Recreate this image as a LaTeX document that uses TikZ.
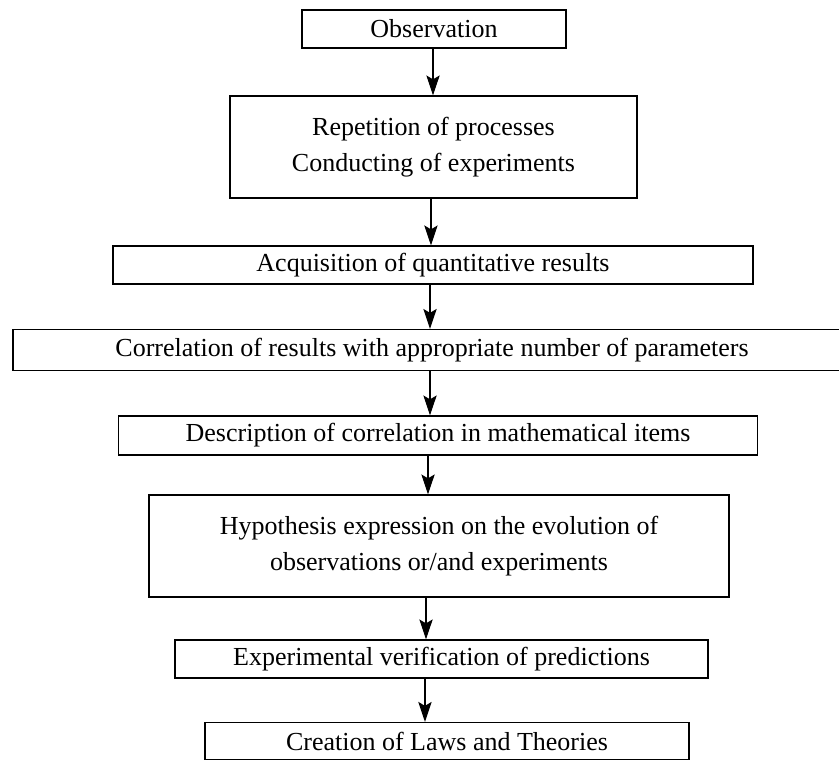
\documentclass[tikz,border=0pt]{standalone}
\usepackage{fontspec}
\setmainfont{Liberation Serif}
\usetikzlibrary{arrows.meta}
\begin{document}
\begin{tikzpicture}[x=0.75pt,y=-0.75pt,
  box/.style={draw, line width=0.9pt, inner sep=0pt, align=center,
    font=\fontsize{19.5}{27}\selectfont},
  arr/.style={line width=0.8pt, -{Stealth[length=15pt,width=10pt,inset=3pt]}}]
\useasboundingbox (0,0) rectangle (839,760);
\node[box, minimum width=198pt, minimum height=28.5pt] (b1) at (434,29) {Observation};
\node[box, minimum width=305.25pt, minimum height=76.5pt] (b2) at (433.5,147)
  {Repetition of processes\\Conducting of experiments};
\node[box, minimum width=480pt, minimum height=28.5pt] (b3) at (433,265)
  {Acquisition of quantitative results};
\node[box, minimum width=628.5pt, minimum height=30.75pt] (b4) at (432,350)
  {Correlation of results with appropriate number of parameters};
\node[box, minimum width=479.25pt, minimum height=29.25pt] (b5) at (438,435.5)
  {Description of correlation in mathematical items};
\node[box, minimum width=435pt, minimum height=76.5pt] (b6) at (439,546)
  {Hypothesis expression on the evolution of\\observations or/and experiments};
\node[box, minimum width=399.75pt, minimum height=28.5pt] (b7) at (441.5,659)
  {Experimental verification of predictions};
\node[box, minimum width=363pt, minimum height=27.75pt] (b8) at (447,741)
  {Creation of Laws and Theories};
\coordinate (a1) at ([xshift=-0.75pt]b1.south);
\coordinate (a2) at ([xshift=-1.9pt]b2.south);
\coordinate (a3) at ([xshift=-2.25pt]b3.south);
\coordinate (a4) at ([xshift=-1.5pt]b4.south);
\coordinate (a5) at ([xshift=-7.5pt]b5.south);
\coordinate (a6) at ([xshift=-9.75pt]b6.south);
\coordinate (a7) at ([xshift=-12.4pt]b7.south);
\draw[arr] (a1) -- (a1 |- b2.north);
\draw[arr] (a2) -- (a2 |- b3.north);
\draw[arr] (a3) -- (a3 |- b4.north);
\draw[arr] (a4) -- (a4 |- b5.north);
\draw[arr] (a5) -- (a5 |- b6.north);
\draw[arr] (a6) -- (a6 |- b7.north);
\draw[arr] (a7) -- (a7 |- b8.north);
\end{tikzpicture}
\end{document}
